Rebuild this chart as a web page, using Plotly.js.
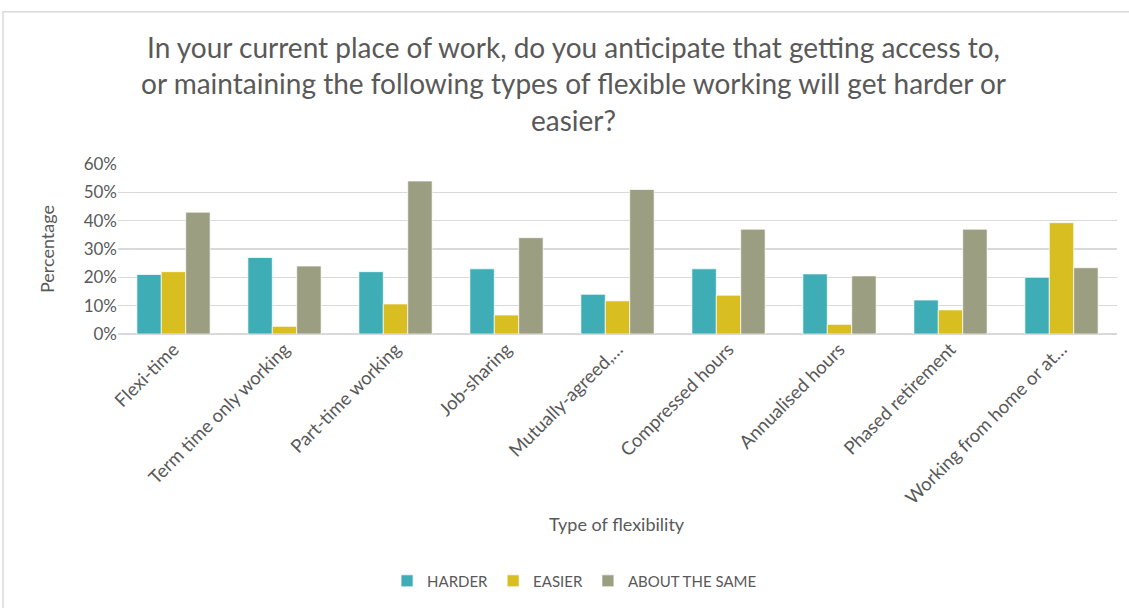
<!DOCTYPE html>
<html>
<head>
<meta charset="utf-8">
<script src="https://cdn.plot.ly/plotly-3.0.1.min.js"></script>
<style>html,body{margin:0;padding:0;background:#fff;}#chart{width:1129px;height:608px;}</style>
</head>
<body>
<div id="chart"></div>
<script>
const categories = ["Flexi-time","Term time only working","Part-time working","Job-sharing","Mutually-agreed,…","Compressed hours","Annualised hours","Phased retirement","Working from home or at…"];
const harder = [0.21,0.27,0.22,0.23,0.14,0.23,0.212,0.12,0.20];
const easier = [0.22,0.027,0.106,0.067,0.117,0.137,0.034,0.085,0.393];
const aboutSame = [0.43,0.24,0.54,0.34,0.51,0.37,0.205,0.37,0.234];
const seriesNames = ["HARDER","EASIER","ABOUT THE SAME"];
const seriesColors = ["#3FADB6","#D8BE21","#9C9E82"];
const yTickVals = [0,0.1,0.2,0.3,0.4,0.5,0.6];
const yTickText = ["0%","10%","20%","30%","40%","50%","60%"];

const FONT = "Lato, 'Open Sans', sans-serif";
const TXT = "#595959";
const data = [harder, easier, aboutSame].map((vals, i) => ({
  type: "bar",
  name: seriesNames[i],
  x: categories,
  y: vals,
  marker: {color: seriesColors[i], line: {color: "rgba(255,255,255,0.7)", width: 1}},
  hoverinfo: "x+y+name"
}));

const layout = {
  width: 1129, height: 608,
  margin: {l: 118, r: 12, t: 164, b: 273},
  paper_bgcolor: "#fff", plot_bgcolor: "#fff",
  font: {family: FONT, color: TXT},
  title: {
    text: "In your current place of work, do you anticipate that getting access to,<br>or maintaining the following types of flexible working will get harder or<br>easier?",
    font: {family: FONT, size: 28, color: TXT},
    x: 0.508, xanchor: "center", y: 0.905, yanchor: "middle"
  },
  barmode: "group",
  bargap: 0.34,
  bargroupgap: 0,
  xaxis: {
    type: "category",
    tickangle: -45,
    tickfont: {family: FONT, size: 18.5, color: TXT},
    showgrid: false, showline: false, ticks: "",
    automargin: false
  },
  yaxis: {
    range: [0, 0.6],
    tickvals: yTickVals, ticktext: yTickText,
    tickfont: {family: FONT, size: 17, color: TXT},
    gridcolor: "#D9D9D9", gridwidth: 1.5,
    zeroline: true, zerolinecolor: "#D9D9D9", zerolinewidth: 1.5,
    showline: false, ticks: "", ticklen: 0,
    automargin: false
  },
  showlegend: true,
  legend: {
    orientation: "h", x: 0.457, xanchor: "center", y: -1.439, yanchor: "middle",
    font: {family: FONT, size: 15, color: TXT},
    itemwidth: 30, traceorder: "normal"
  },
  annotations: [
    {text: "Percentage", xref: "paper", yref: "paper", x: -0.071, y: 0.5, xanchor: "center", yanchor: "middle",
     textangle: -90, showarrow: false, font: {family: FONT, size: 18, color: TXT}},
    {text: "Type of flexibility", xref: "paper", yref: "paper", x: 0.499, y: -1.12, xanchor: "center", yanchor: "middle",
     showarrow: false, font: {family: FONT, size: 18, color: TXT}}
  ],
  shapes: [
    {type: "rect", xref: "paper", yref: "paper", x0: -0.1151, x1: 1.03, y0: -1.7, y1: 1.895,
     line: {color: "#D9D9D9", width: 1.5}, fillcolor: "rgba(0,0,0,0)", layer: "below"}
  ]
};

Plotly.newPlot("chart", data, layout, {displayModeBar: false, staticPlot: true});
</script>
</body>
</html>
